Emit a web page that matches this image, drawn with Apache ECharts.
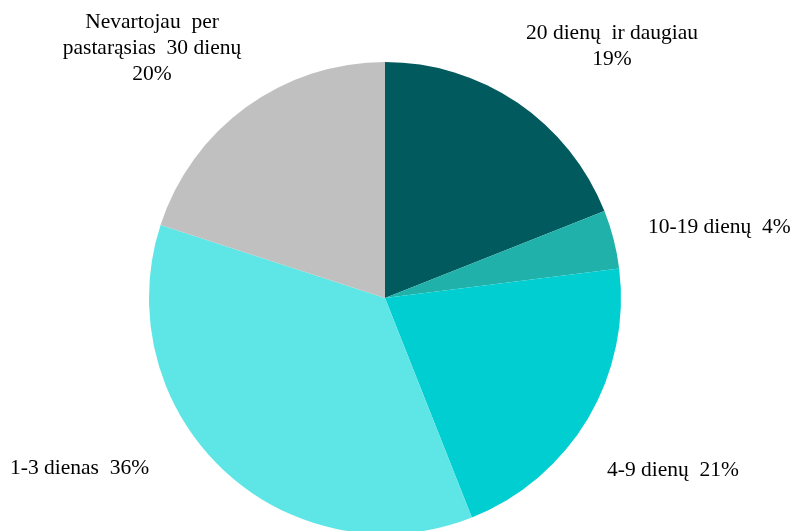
<!DOCTYPE html>
<html><head><meta charset="utf-8">
<script src="https://cdn.jsdelivr.net/npm/echarts@6/dist/echarts.min.js"></script>
<style>html,body{margin:0;padding:0;background:#fff}#c{width:799px;height:531px}</style>
</head><body><div id="c"></div>
<script>
const categories = ['20 dienų  ir daugiau', '10-19 dienų', '4-9 dienų', '1-3 dienas', 'Nevartojau  per\npastarąsias  30 dienų'];
const values = [19, 4, 21, 36, 20];
const colors = ['#005A5E', '#20B2AA', '#00CED1', '#5EE6E6', '#C0C0C0'];
const labelBreak = [true, false, false, false, true];
// label anchor positions (px) and alignment
const labelPos = [
  {x: 612, y: 46, align: 'center'},
  {x: 648, y: 227, align: 'left'},
  {x: 607, y: 470, align: 'left'},
  {x: 10, y: 468, align: 'left'},
  {x: 152, y: 48, align: 'center'}
];
const chart = echarts.init(document.getElementById('c'), null, {renderer: 'canvas'});
chart.setOption({
  animation: false,
  backgroundColor: '#fff',
  series: [{
    type: 'pie',
    center: [385, 298],
    radius: 236,
    startAngle: 90,
    clockwise: true,
    data: categories.map((n, i) => ({name: n, value: values[i], itemStyle: {color: colors[i]}})),
    label: {
      show: true,
      position: 'outside',
      overflow: 'none',
      fontFamily: 'Liberation Serif',
      fontSize: 21.5,
      lineHeight: 26,
      color: '#000',
      align: 'center',
      formatter: p => p.name + (labelBreak[p.dataIndex] ? '\n' : '  ') + p.value + '%'
    },
    labelLine: {show: false},
    labelLayout: p => ({
      x: labelPos[p.dataIndex].x,
      y: labelPos[p.dataIndex].y,
      align: labelPos[p.dataIndex].align,
      verticalAlign: 'middle',
      width: 400
    })
  }]
});
</script></body></html>
